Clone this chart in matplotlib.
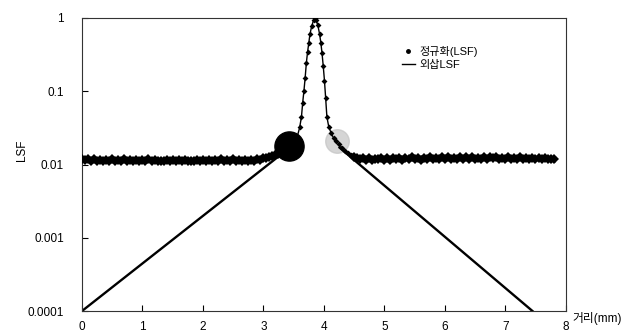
import matplotlib.pyplot as plt
from matplotlib.lines import Line2D
import numpy as np

plt.rcParams['font.family'] = ['Liberation Sans', 'Noto Sans CJK KR', 'DejaVu Sans']

# normalized LSF (measured points)
x_left = np.round(np.arange(0, 3.31, 0.05), 2)
y_left = [0.0120, 0.0114, 0.0118, 0.0112, 0.0119, 0.0113, 0.0117, 0.0111, 0.0116, 0.0112,
          0.0118, 0.0110, 0.0115, 0.0112, 0.0119, 0.0111, 0.0116, 0.0113, 0.0117, 0.0110,
          0.0114, 0.0112, 0.0118, 0.0111, 0.0115, 0.0110, 0.0113, 0.0111, 0.0116, 0.0110,
          0.0114, 0.0112, 0.0117, 0.0110, 0.0115, 0.0111, 0.0113, 0.0110, 0.0116, 0.0111,
          0.0114, 0.0110, 0.0117, 0.0112, 0.0115, 0.0111, 0.0118, 0.0112, 0.0116, 0.0113,
          0.0119, 0.0112, 0.0117, 0.0110, 0.0114, 0.0111, 0.0116, 0.0112, 0.0118, 0.0115,
          0.0121, 0.0124, 0.0128, 0.0131, 0.0135, 0.0140, 0.0148]

x_peak = [3.35, 3.40, 3.45, 3.50, 3.56, 3.60, 3.63, 3.65, 3.67, 3.69, 3.71, 3.73, 3.75,
          3.77, 3.80, 3.83, 3.85, 3.87, 3.90, 3.93, 3.95, 3.97, 3.99, 4.01, 4.03, 4.05,
          4.08, 4.12, 4.16, 4.20, 4.25, 4.30, 4.35, 4.40, 4.45]
y_peak = [0.0152, 0.0158, 0.0166, 0.018, 0.024, 0.032, 0.045, 0.07, 0.10, 0.15, 0.24, 0.34, 0.45,
          0.6, 0.78, 0.93, 1.0, 0.95, 0.8, 0.6, 0.46, 0.33, 0.22, 0.14, 0.08, 0.045,
          0.033, 0.027, 0.023, 0.021, 0.019, 0.017, 0.0155, 0.0145, 0.0135]

x_right = np.round(np.arange(4.50, 7.81, 0.05), 2)
y_right = [0.0128, 0.0122, 0.0119, 0.0124, 0.0117, 0.0121, 0.0116, 0.0120, 0.0118, 0.0123,
           0.0117, 0.0121, 0.0116, 0.0122, 0.0118, 0.0124, 0.0117, 0.0121, 0.0119, 0.0125,
           0.0118, 0.0122, 0.0117, 0.0124, 0.0119, 0.0126, 0.0118, 0.0123, 0.0119, 0.0125,
           0.0120, 0.0127, 0.0119, 0.0124, 0.0118, 0.0126, 0.0120, 0.0125, 0.0119, 0.0127,
           0.0120, 0.0124, 0.0118, 0.0126, 0.0119, 0.0125, 0.0121, 0.0127, 0.0119, 0.0124,
           0.0120, 0.0126, 0.0118, 0.0123, 0.0120, 0.0125, 0.0119, 0.0124, 0.0120, 0.0123,
           0.0119, 0.0122, 0.0120, 0.0121, 0.0119, 0.0120, 0.0118]

# extrapolated LSF tails
x_tail_l = [0.0, 3.42]
y_tail_l = [0.0001, 0.0166]
x_tail_r = [4.26, 7.45]
y_tail_r = [0.017, 0.0001]

# highlighted junction points
x_join = [3.42, 4.22]
y_join = [0.018, 0.021]

fig = plt.figure(figsize=(6.21, 3.33), dpi=100)
ax = fig.add_axes([0.132, 0.066, 0.779, 0.880])

ax.plot(x_join[1], y_join[1], 'o', color='#c4c4c4', ms=17, alpha=0.7, zorder=1)
ax.plot(x_tail_l, y_tail_l, '-', color='black', lw=1.7, zorder=2)
ax.plot(x_tail_r, y_tail_r, '-', color='black', lw=1.7, zorder=2)
ax.plot(x_peak, y_peak, '-', color='black', lw=1.0, zorder=2)
ax.plot(x_peak, y_peak, 'D', color='black', ms=3, mew=0, zorder=3)
for xs, ys in [(x_left, y_left), (x_right, y_right)]:
    ax.plot(list(xs), ys, 'D', color='black', ms=5, mew=0, zorder=3)
    ax.plot(list(xs), ys, '-', color='black', lw=4, zorder=3)
ax.plot(x_join[0], y_join[0], 'o', color='black', ms=21, zorder=4)

ax.set_yscale('log')
ax.set_xlim(0, 8)
ax.set_ylim(0.0001, 1)
ax.set_xticks(range(9))
ax.set_yticks([0.0001, 0.001, 0.01, 0.1, 1])
ax.set_yticklabels(['0.0001', '0.001', '0.01', '0.1', '1'])
ax.minorticks_off()
ax.tick_params(direction='in', length=4, width=0.8, labelsize=8.5)
ax.tick_params(axis='y', pad=13)
ax.tick_params(axis='x', pad=7)
for s in ax.spines.values():
    s.set_linewidth(0.8)
    s.set_color('#333333')

fig.text(0.036, 0.55, 'LSF', rotation=90, fontsize=8.5, ha='center', va='center')
fig.text(0.962, 0.045, '거리(mm)', fontsize=8.5, ha='center', va='center')

handles = [Line2D([], [], marker='o', ls='none', color='black', ms=2.5),
           Line2D([], [], ls='-', color='black', lw=1)]
ax.legend(handles, ['정규화(LSF)', '외삽LSF'], loc='upper left', bbox_to_anchor=(0.64, 0.94),
          frameon=False, fontsize=8, handlelength=1.2, handletextpad=0.4, labelspacing=0.3)

fig.savefig('out.png', dpi=100)
